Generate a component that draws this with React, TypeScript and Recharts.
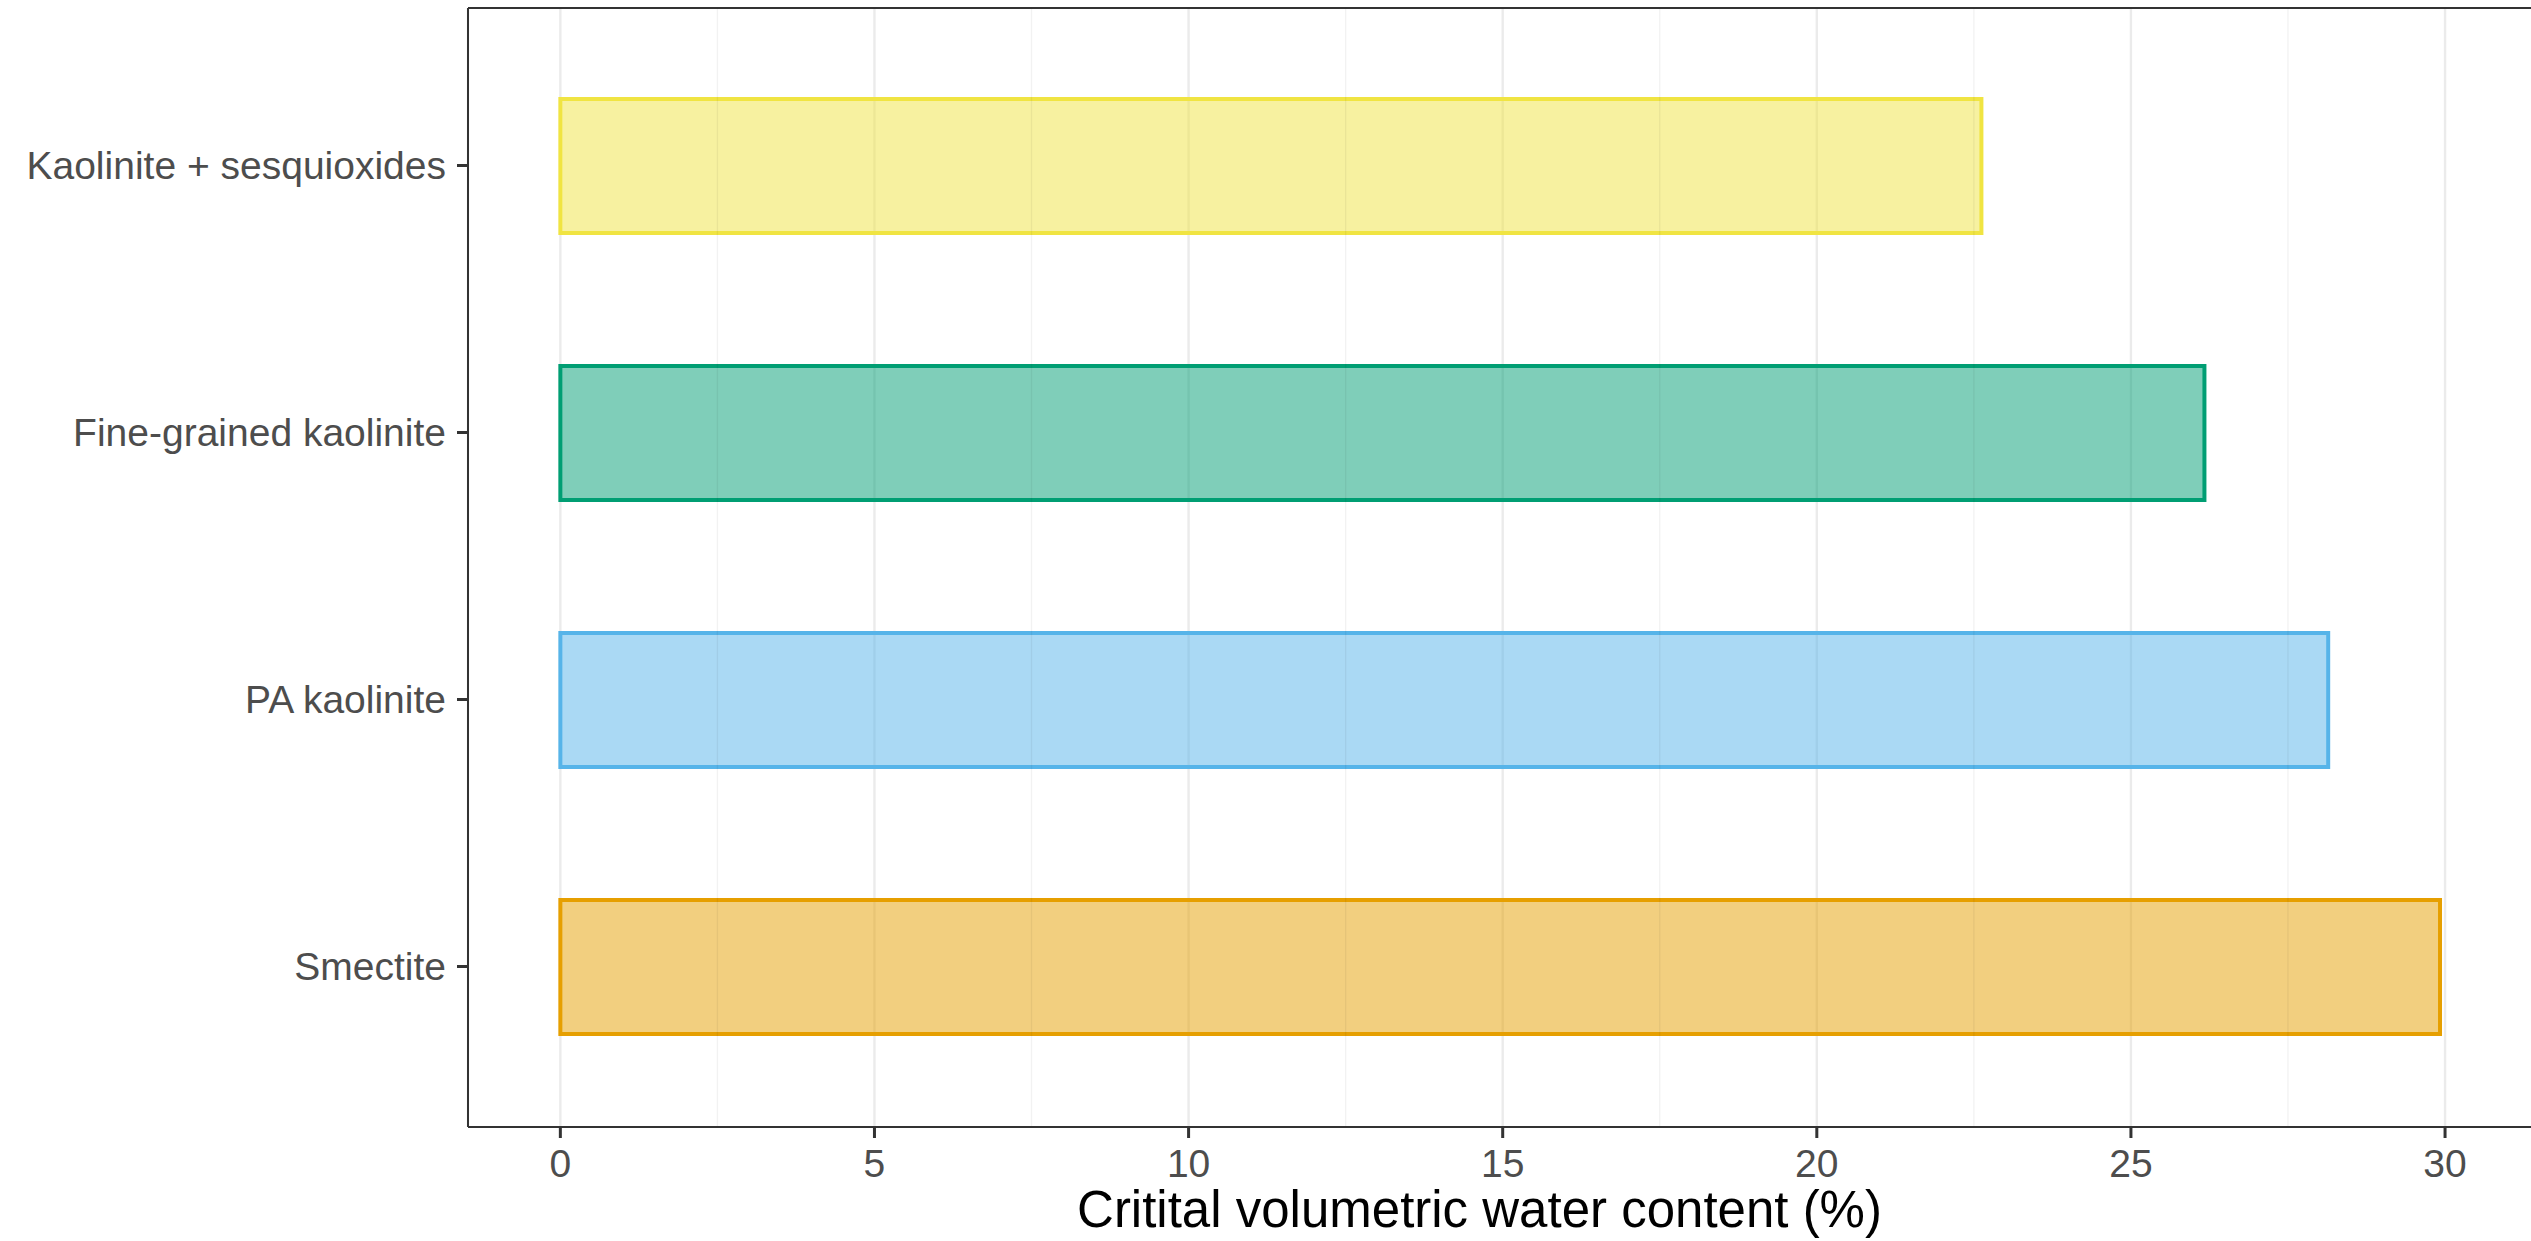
import { Bar, BarChart, CartesianGrid, Cell, ReferenceLine, XAxis, YAxis } from "recharts";

const minerals = [
  "Kaolinite + sesquioxides",
  "Fine-grained kaolinite",
  "PA kaolinite",
  "Smectite",
];
const waterContent = [22.62, 26.17, 28.14, 29.92];
const fillColors = ["#F0E442", "#009E73", "#56B4E9", "#E69F00"];
const majorTicks = [0, 5, 10, 15, 20, 25, 30];
const minorTicks = [2.5, 7.5, 12.5, 17.5, 22.5, 27.5];
const xTitle = "Critital volumetric water content (%)";

const data = minerals.map((name, i) => ({ name, value: waterContent[i] }));

const font = "'Liberation Sans', Arial, Helvetica, sans-serif";

export default function App() {
  return (
    <div
      style={{
        position: "absolute",
        left: 0,
        top: 0,
        width: 2531,
        height: 1241,
        overflow: "hidden",
        background: "#fff",
      }}
    >
      <BarChart
        width={2540}
        height={1241}
        data={data}
        layout="vertical"
        margin={{ top: 7, right: 7, bottom: 0, left: 0 }}
        style={{ fontFamily: font }}
      >
        <CartesianGrid horizontal={false} stroke="#EBEBEB" strokeWidth={2.4} />
        {/* minor grid: drawn on top of the bars, so keep it translucent */}
        {minorTicks.map((v) => (
          <ReferenceLine key={v} x={v} stroke="#000000" strokeOpacity={0.05} strokeWidth={1.4} />
        ))}
        <XAxis
          type="number"
          dataKey="value"
          domain={[-1.47, 31.4]}
          allowDataOverflow
          ticks={majorTicks}
          height={114}
          tickSize={11}
          tickMargin={11}
          tick={{ fontSize: 39, fill: "#4D4D4D", fontFamily: font }}
          tickLine={{ stroke: "#333333", strokeWidth: 3 }}
          axisLine={{ stroke: "#333333", strokeWidth: 2 }}
          label={{
            value: xTitle,
            position: "insideBottom",
            offset: 14,
            dx: -21,
            fontSize: 51,
            fill: "#000000",
            fontFamily: font,
          }}
        />
        <XAxis
          xAxisId="top"
          orientation="top"
          type="number"
          domain={[-1.47, 31.4]}
          allowDataOverflow
          height={1}
          tickSize={0}
          tick={false}
          tickLine={false}
          axisLine={{ stroke: "#333333", strokeWidth: 2 }}
        />
        <YAxis
          type="category"
          dataKey="name"
          width={468}
          padding={{ top: 24, bottom: 27 }}
          tickSize={11}
          tickMargin={11}
          tick={{ fontSize: 39, fill: "#4D4D4D", fontFamily: font }}
          tickLine={{ stroke: "#333333", strokeWidth: 3 }}
          axisLine={{ stroke: "#333333", strokeWidth: 2 }}
        />
        <Bar dataKey="value" barSize={134} isAnimationActive={false} strokeWidth={4}>
          {data.map((d, i) => (
            <Cell
              key={d.name}
              fill={fillColors[i]}
              fillOpacity={0.5}
              stroke={fillColors[i]}
            />
          ))}
        </Bar>
      </BarChart>
    </div>
  );
}
